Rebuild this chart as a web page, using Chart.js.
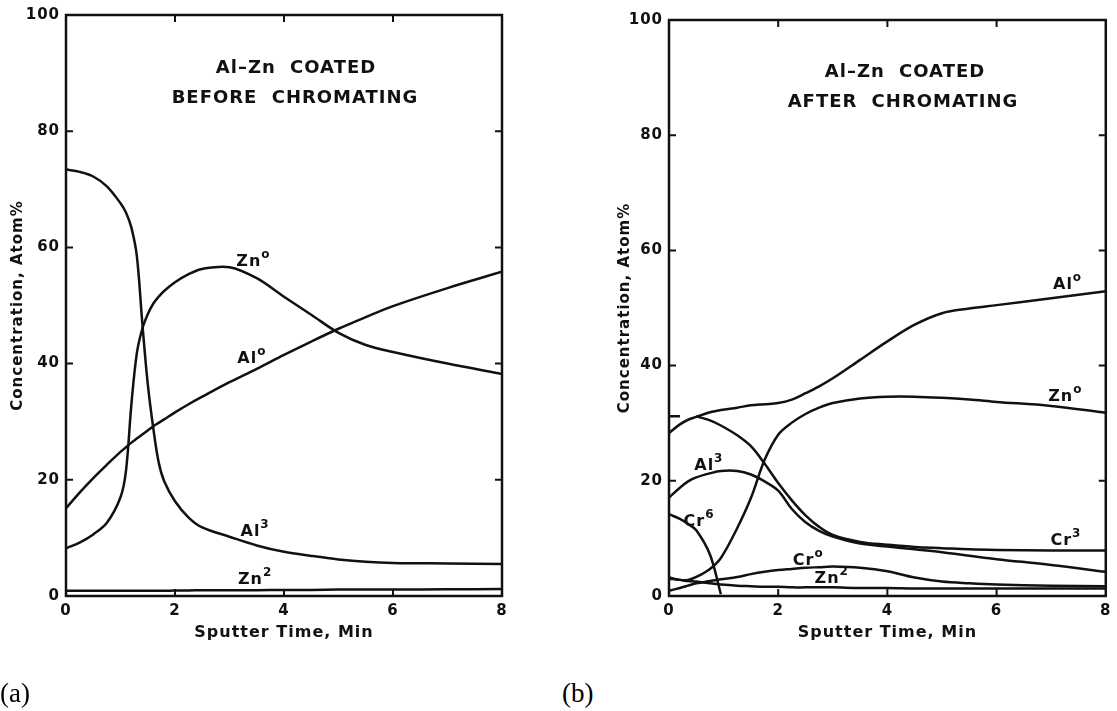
<!DOCTYPE html>
<html>
<head>
<meta charset="utf-8">
<title>Al-Zn coated depth profiles</title>
<script src="https://cdn.jsdelivr.net/npm/chart.js@4.4.0/dist/chart.umd.min.js"></script>
<style>
  body { margin: 0; background: #fff; width: 1117px; height: 711px; position: relative; overflow: hidden; font-family: "DejaVu Sans", sans-serif; }
  .panel { position: absolute; top: 0; height: 711px; }
  .title { position: absolute; font-weight: bold; font-size: 18px; letter-spacing: 1px; word-spacing: 7px; white-space: nowrap; transform: translate(-50%, -50%); color: #111; }
  .tag { position: absolute; font-family: "Liberation Serif", serif; font-size: 27px; line-height: 1; color: #000; }
</style>
</head>
<body>
<div class="panel" style="left:0;width:540px"><canvas id="chartA"></canvas></div>
<div class="panel" style="left:603px;width:514px"><canvas id="chartB"></canvas></div>

<div class="title" style="left:296px;top:66px">Al–Zn COATED</div>
<div class="title" style="left:295px;top:96px">BEFORE CHROMATING</div>
<div class="title" style="left:905px;top:70px">Al–Zn COATED</div>
<div class="title" style="left:903px;top:100px">AFTER CHROMATING</div>
<div class="tag" style="left:0;top:680px">(a)</div>
<div class="tag" style="left:562px;top:680px">(b)</div>

<script>
// axis ticks
const xTicks = [0, 2, 4, 6, 8];
const yTicks = [0, 20, 40, 60, 80, 100];

// (a) before chromating, sputter time in min
const timeA = [0, 0.25, 0.5, 0.75, 1, 1.1, 1.2, 1.3, 1.4, 1.5, 1.6, 1.7, 1.8, 2, 2.25, 2.5, 3, 3.5, 4, 4.5, 5, 5.5, 6, 7, 8];
const alZeroA = [15.1, 17.8, 20.3, 22.6, 24.8, 25.6, 26.4, 27.1, 27.8, 28.5, 29.2, 29.8, 30.4, 31.6, 33.0, 34.3, 36.8, 39.1, 41.5, 43.8, 46.0, 48.0, 49.9, 53.0, 55.8];
const znZeroA = [8.2, 9.2, 10.6, 12.6, 17.0, 21.5, 33.0, 41.8, 46.0, 48.5, 50.3, 51.5, 52.5, 54.0, 55.4, 56.3, 56.6, 54.7, 51.5, 48.4, 45.3, 43.2, 42.0, 40.0, 38.2];
const alThreeA = [73.4, 73.0, 72.2, 70.5, 67.6, 66.0, 63.4, 58.5, 47.0, 36.5, 29.0, 23.0, 19.8, 16.3, 13.5, 11.8, 10.2, 8.7, 7.6, 6.9, 6.3, 5.9, 5.7, 5.6, 5.5];
const znTwoA = [0.9, 0.9, 0.9, 0.9, 0.9, 0.9, 0.9, 0.9, 0.9, 0.9, 0.9, 0.9, 0.9, 0.95, 0.95, 1.0, 1.0, 1.0, 1.05, 1.05, 1.1, 1.1, 1.1, 1.15, 1.2];

// (b) after chromating
const timeB = [0, 0.2, 0.35, 0.5, 0.75, 0.95, 1.25, 1.5, 1.75, 2, 2.25, 2.5, 2.75, 3, 3.5, 4, 4.5, 5, 5.5, 6, 7, 8];
const alZeroB = [28.3, 29.8, 30.6, 31.1, 31.9, 32.3, 32.7, 33.1, 33.3, 33.5, 34.1, 35.2, 36.4, 37.8, 41.0, 44.2, 47.1, 49.1, 49.9, 50.5, 51.7, 52.9];
const znZeroB = [3.2, 2.8, 2.8, 3.3, 4.7, 6.6, 11.8, 17.0, 23.6, 28.0, 30.1, 31.6, 32.7, 33.5, 34.3, 34.6, 34.6, 34.4, 34.1, 33.7, 33.0, 31.8];
const crThreeB = [31.2, 31.2, null, 31.2, 30.5, 29.6, 27.9, 26.0, 23.0, 19.6, 16.6, 14.0, 12.0, 10.6, 9.4, 8.9, 8.5, 8.3, 8.1, 8.0, 7.9, 7.9];
const alThreeB = [17.1, 18.8, 19.9, 20.6, 21.3, 21.7, 21.7, 21.1, 19.9, 18.3, 15.1, 12.8, 11.3, 10.3, 9.1, 8.6, 8.1, 7.6, 7.0, 6.4, 5.4, 4.2];
const crSixB = [14.2, 13.4, 12.5, 11.4, 7.2, 0.3, null, null, null, null, null, null, null, null, null, null, null, null, null, null, null, null];
const crZeroB = [0.9, 1.4, 1.8, 2.2, 2.6, 2.9, 3.3, 3.8, 4.2, 4.5, 4.7, 4.9, 5.0, 5.1, 4.9, 4.3, 3.2, 2.5, 2.2, 2.0, 1.8, 1.7];
const znTwoB = [3.0, 2.8, 2.6, 2.5, 2.2, 2.0, 1.8, 1.7, 1.6, 1.6, 1.5, 1.5, 1.5, 1.5, 1.4, 1.4, 1.3, 1.3, 1.3, 1.3, 1.3, 1.3];

// curve labels (element, oxidation state, anchor in data units)
const labelBaseA = ['Zn', 'Al', 'Al', 'Zn'];
const labelSupA = ['o', 'o', '3', '2'];
const labelXA = [3.44, 3.41, 3.47, 3.47];
const labelYA = [57.8, 41.1, 11.4, 3.2];

const labelBaseB = ['Al', 'Zn', 'Cr', 'Al', 'Cr', 'Cr', 'Zn'];
const labelSupB = ['o', 'o', '3', '3', '6', 'o', '2'];
const labelXB = [7.3, 7.26, 7.27, 0.73, 0.55, 2.55, 2.98];
const labelYB = [54.3, 35.0, 9.9, 23.0, 13.3, 6.5, 3.4];

const ink = '#111';
const boldFont = size => ({ family: 'DejaVu Sans', weight: 'bold', size: size });

function lineSet(times, values) {
  return {
    data: times.map((t, i) => ({ x: t, y: values[i] })),
    borderColor: ink,
    borderWidth: 2.5,
    pointRadius: 0,
    tension: 0.35,
    spanGaps: false,
    fill: false
  };
}

// spaced lettering like the original figure
const lettering = {
  id: 'lettering',
  beforeDraw(chart) { chart.ctx.letterSpacing = '1px'; }
};

// box frame with inward ticks on all four sides
const frame = {
  id: 'frame',
  afterDatasetsDraw(chart) {
    const {ctx, chartArea: a, scales: {x, y}} = chart;
    const len = 7;
    ctx.save();
    ctx.strokeStyle = ink;
    ctx.lineWidth = 2.5;
    ctx.strokeRect(a.left, a.top, a.right - a.left, a.bottom - a.top);
    ctx.lineWidth = 2;
    ctx.beginPath();
    xTicks.slice(1, -1).forEach(v => {
      const px = x.getPixelForValue(v);
      ctx.moveTo(px, a.top); ctx.lineTo(px, a.top + len);
      ctx.moveTo(px, a.bottom); ctx.lineTo(px, a.bottom - len);
    });
    yTicks.slice(1, -1).forEach(v => {
      const py = y.getPixelForValue(v);
      ctx.moveTo(a.left, py); ctx.lineTo(a.left + len, py);
      ctx.moveTo(a.right, py); ctx.lineTo(a.right - len, py);
    });
    ctx.stroke();
    ctx.restore();
  }
};

const curveLabels = {
  id: 'curveLabels',
  afterDatasetsDraw(chart, args, opts) {
    const {ctx, scales: {x, y}} = chart;
    ctx.save();
    ctx.fillStyle = ink;
    ctx.textAlign = 'left';
    ctx.textBaseline = 'middle';
    opts.base.forEach((b, i) => {
      const px = x.getPixelForValue(opts.xs[i]);
      const py = y.getPixelForValue(opts.ys[i]);
      ctx.font = 'bold 16px "DejaVu Sans"';
      const w1 = ctx.measureText(b).width;
      ctx.font = 'bold 12px "DejaVu Sans"';
      const w2 = ctx.measureText(opts.sup[i]).width;
      const left = px - (w1 + w2) / 2;
      ctx.font = 'bold 16px "DejaVu Sans"';
      ctx.fillText(b, left, py + 2);
      ctx.font = 'bold 12px "DejaVu Sans"';
      ctx.fillText(opts.sup[i], left + w1, py - 5);
    });
    ctx.restore();
  }
};

function makeOptions(top, right, titlePad, labelOpts) {
  return {
    responsive: true,
    maintainAspectRatio: false,
    animation: false,
    layout: { padding: { top: top, right: right, bottom: 69, left: 0 } },
    plugins: {
      legend: { display: false },
      tooltip: { enabled: false },
      curveLabels: labelOpts
    },
    scales: {
      x: {
        type: 'linear',
        min: 0,
        max: 8,
        afterBuildTicks: s => { s.ticks = xTicks.map(v => ({ value: v })); },
        afterFit: s => { s.height = 46; },
        grid: { display: false, drawTicks: false },
        border: { display: false },
        ticks: { color: ink, font: boldFont(15), padding: 6, maxRotation: 0 },
        title: { display: true, text: 'Sputter Time, Min', color: ink, font: boldFont(16), padding: { top: 0, bottom: 0 } }
      },
      y: {
        type: 'linear',
        min: 0,
        max: 100,
        afterBuildTicks: s => { s.ticks = yTicks.map(v => ({ value: v })); },
        afterFit: s => { s.width = 66; },
        grid: { display: false, drawTicks: false },
        border: { display: false },
        ticks: { color: ink, font: boldFont(15), padding: 6 },
        title: { display: true, text: 'Concentration, Atom%', color: ink, font: boldFont(15), padding: { top: titlePad, bottom: 0 } }
      }
    }
  };
}

new Chart(document.getElementById('chartA'), {
  type: 'line',
  data: {
    datasets: [
      lineSet(timeA, alThreeA),
      lineSet(timeA, znZeroA),
      lineSet(timeA, alZeroA),
      lineSet(timeA, znTwoA)
    ]
  },
  options: makeOptions(15, 38, 9, { base: labelBaseA, sup: labelSupA, xs: labelXA, ys: labelYA }),
  plugins: [lettering, frame, curveLabels]
});

new Chart(document.getElementById('chartB'), {
  type: 'line',
  data: {
    datasets: [
      lineSet(timeB, alZeroB),
      lineSet(timeB, znZeroB),
      lineSet(timeB, crThreeB),
      lineSet(timeB, alThreeB),
      lineSet(timeB, crSixB),
      lineSet(timeB, crZeroB),
      lineSet(timeB, znTwoB)
    ]
  },
  options: makeOptions(20, 7, 13, { base: labelBaseB, sup: labelSupB, xs: labelXB, ys: labelYB }),
  plugins: [lettering, frame, curveLabels]
});
</script>
</body>
</html>
